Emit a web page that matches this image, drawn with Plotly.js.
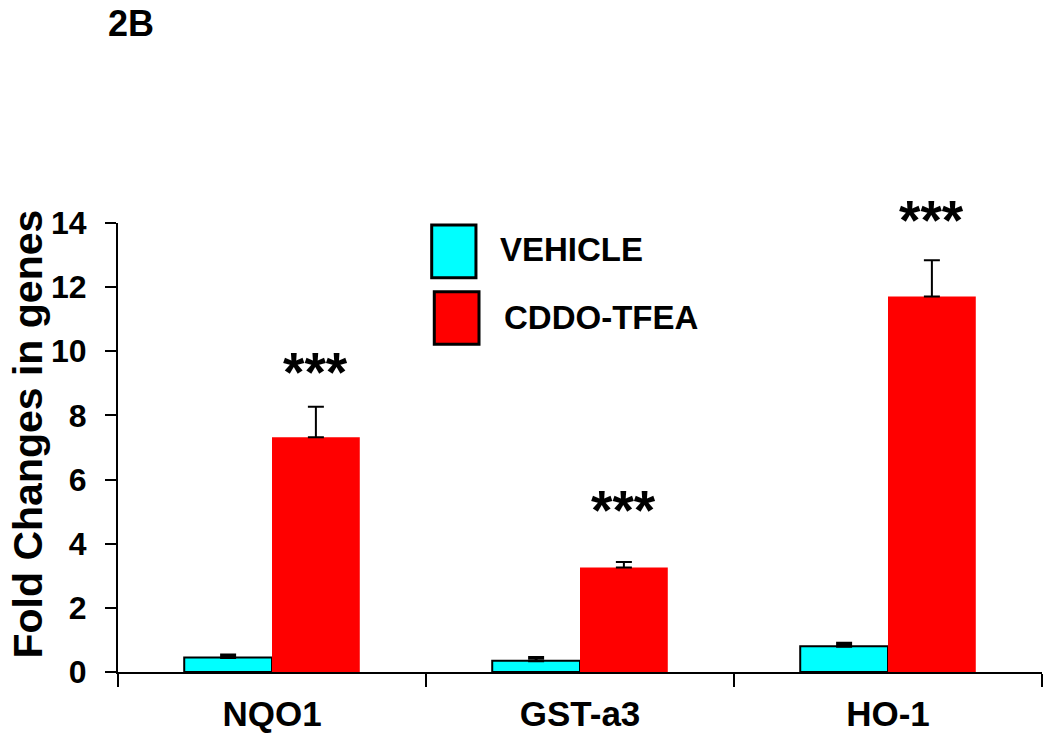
<!DOCTYPE html>
<html>
<head>
<meta charset="utf-8">
<script src="https://cdn.plot.ly/plotly-3.0.1.min.js"></script>
<style>
  html, body { margin: 0; padding: 0; background: #fff; }
  #chart { width: 1050px; height: 750px; }
</style>
</head>
<body>
<div id="chart"></div>
<script>
// ---- data ----
const categories = ['NQO1', 'GST-a3', 'HO-1'];
const seriesNames = ['VEHICLE', 'CDDO-TFEA'];
const vehicle = [0.45, 0.35, 0.80];
const vehicleErr = [0.08, 0.10, 0.10];
const cddo = [7.32, 3.26, 11.71];
const cddoErr = [0.95, 0.17, 1.13];
const sigLabels = ['***', '***', '***'];
const sigY = [9.35, 5.05, 14.1];
const yTicks = [0, 2, 4, 6, 8, 10, 12, 14];
const yRange = [0, 14];
const panelLabel = '2B';
const yTitle = 'Fold Changes in genes';

// ---- style ----
const colors = ['#00FFFF', '#FF0000'];
const bargap = 0.43;
const boldFont = 'Liberation Sans, Arial, sans-serif';

const traces = [
  {
    type: 'bar', name: seriesNames[0], x: categories, y: vehicle,
    marker: { color: colors[0], line: { color: '#000', width: 2 } },
    error_y: { type: 'data', array: vehicleErr, arrayminus: vehicleErr.map(() => 0), symmetric: false,
               color: '#000', thickness: 3, width: 8 },
    showlegend: false, cliponaxis: false
  },
  {
    type: 'bar', name: seriesNames[1], x: categories, y: cddo,
    marker: { color: colors[1], line: { width: 0 } },
    error_y: { type: 'data', array: cddoErr, arrayminus: cddoErr.map(() => 0), symmetric: false,
               color: '#000', thickness: 2, width: 8 },
    showlegend: false, cliponaxis: false
  }
];

const barOffset = (1 - bargap) / 4;
// significance marks: x in data coords, y converted to paper fraction so values above the range still show
const annotations = sigLabels.map((s, i) => ({
  x: i + barOffset, y: (sigY[i] - yRange[0]) / (yRange[1] - yRange[0]), xref: 'x', yref: 'paper',
  text: '<b>' + s + '</b>',
  showarrow: false, xanchor: 'center', yanchor: 'middle',
  font: { family: boldFont, size: 55, color: '#000' }
}));

// panel label
annotations.push({
  xref: 'paper', yref: 'paper', x: -0.013, y: 1.445, xanchor: 'left', yanchor: 'middle',
  text: '<b>' + panelLabel + '</b>', showarrow: false,
  font: { family: boldFont, size: 36, color: '#000' }
});
// y title
annotations.push({
  xref: 'paper', yref: 'paper', x: -0.0974, y: 0.529, xanchor: 'center', yanchor: 'middle',
  text: '<b>' + yTitle + '</b>', textangle: -90, showarrow: false,
  font: { family: boldFont, size: 41, color: '#000' }
});

// legend (drawn manually)
const legendBoxes = [
  { x0: 0.3395, x1: 0.3874, y0: 0.8782, y1: 0.9955, tx: 0.4113, ty: 0.9399 },
  { x0: 0.3423, x1: 0.3907, y0: 0.7298, y1: 0.8470, tx: 0.4152, ty: 0.7906 }
];
const shapes = legendBoxes.map((b, i) => ({
  type: 'rect', xref: 'paper', yref: 'paper', x0: b.x0, x1: b.x1, y0: b.y0, y1: b.y1,
  fillcolor: colors[i], line: { color: '#000', width: 3 }
}));
legendBoxes.forEach((b, i) => annotations.push({
  xref: 'paper', yref: 'paper', x: b.tx, y: b.ty, xanchor: 'left', yanchor: 'middle',
  text: '<b>' + seriesNames[i] + '</b>', showarrow: false,
  font: { family: boldFont, size: 33, color: '#000' }
}));

const layout = {
  width: 1050, height: 750,
  margin: { l: 118, r: 8, t: 223, b: 78 },
  paper_bgcolor: '#fff', plot_bgcolor: '#fff',
  barmode: 'group', bargap: bargap, bargroupgap: 0,
  showlegend: false,
  xaxis: {
    type: 'category', tickson: 'boundaries',
    showline: true, linecolor: '#000', linewidth: 2,
    ticks: 'outside', ticklen: 13, tickwidth: 2, tickcolor: '#000',
    showgrid: false, zeroline: false,
    tickfont: { family: boldFont, size: 35, color: '#000', weight: 'bold' },
    ticklabelstandoff: 10
  },
  yaxis: {
    range: yRange, tickvals: yTicks, ticktext: yTicks.map(String),
    showline: true, linecolor: '#000', linewidth: 2,
    ticks: 'outside', ticklen: 11, tickwidth: 2, tickcolor: '#000',
    showgrid: false, zeroline: false,
    tickfont: { family: boldFont, size: 32, color: '#000', weight: 'bold' },
    ticklabelstandoff: 12
  },
  shapes: shapes,
  annotations: annotations
};

Plotly.newPlot('chart', traces, layout, { displayModeBar: false, staticPlot: true });
</script>
</body>
</html>
